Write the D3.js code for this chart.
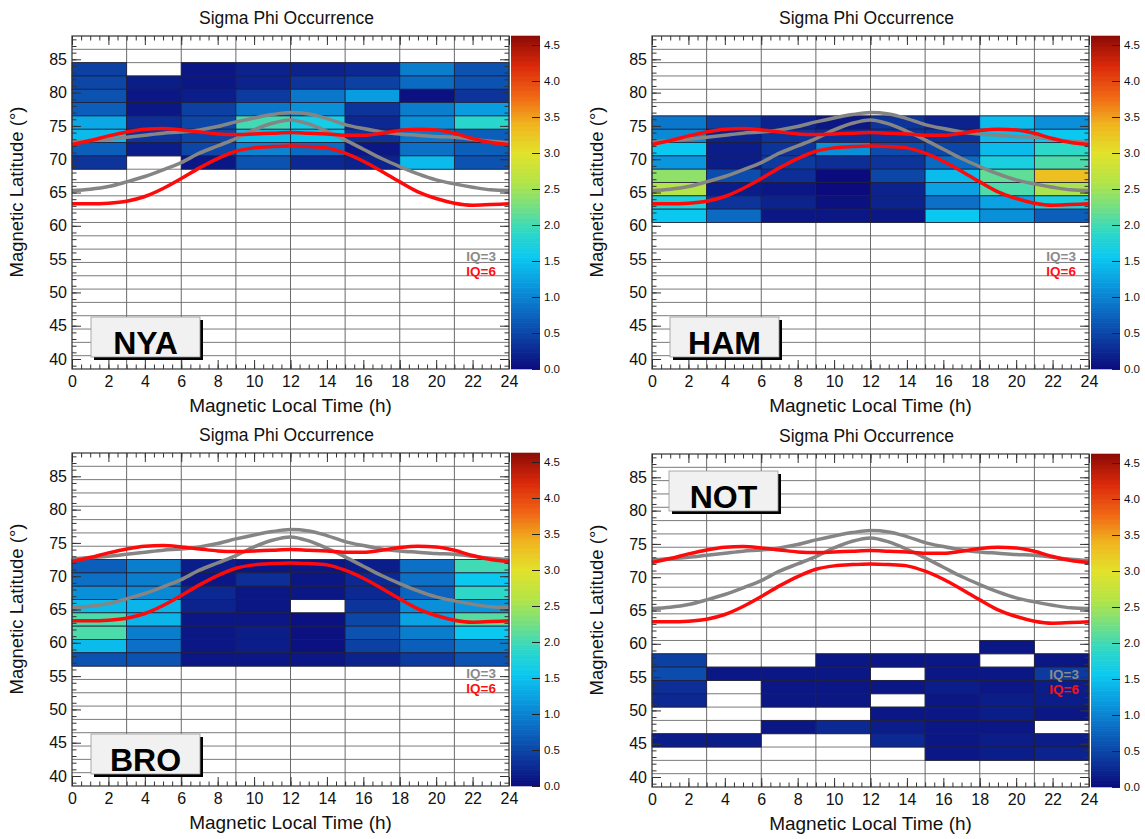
<!DOCTYPE html>
<html>
<head>
<meta charset="utf-8">
<script src="https://cdn.jsdelivr.net/npm/d3@7/dist/d3.min.js"></script>
<style>
  body { margin: 0; background: #fff; }
  svg { font-family: "Liberation Sans", Arial, Helvetica, sans-serif; }
</style>
</head>
<body>
<div class="vis-holder"></div>
<script>
// MLT bins (3 h wide) and tick values
var mltEdges = [0, 3, 6, 9, 12, 15, 18, 21, 24];
var mltTicks = [0, 2, 4, 6, 8, 10, 12, 14, 16, 18, 20, 22, 24];
var latTicks = [40, 45, 50, 55, 60, 65, 70, 75, 80, 85];
var colorTicks = [0, 0.5, 1, 1.5, 2, 2.5, 3, 3.5, 4, 4.5];

// auroral oval boundaries
var ovalMlt = [0, 1, 2, 3, 4, 5, 6, 7, 8, 9, 10, 11, 12, 13, 14, 15, 16, 17, 18, 19, 20, 21, 22, 23, 24];
var iq3Pole = [72.6, 72.8, 73.0, 73.3, 73.6, 73.9, 74.1, 74.4, 74.9, 75.6, 76.2, 76.7, 77.0, 76.8, 76.1, 75.2, 74.6, 74.1, 73.8, 73.6, 73.4, 73.3, 73.0, 72.7, 72.5];
var iq3Equator = [65.3, 65.5, 65.9, 66.6, 67.4, 68.4, 69.5, 70.9, 72.0, 73.1, 74.4, 75.4, 75.9, 75.3, 74.2, 72.9, 71.5, 70.1, 68.9, 67.8, 66.9, 66.3, 65.8, 65.4, 65.3];
var iq6Pole = [72.2, 72.8, 73.5, 74.1, 74.5, 74.6, 74.4, 74.1, 73.8, 73.7, 73.8, 73.9, 74.0, 73.9, 73.8, 73.6, 73.6, 73.9, 74.3, 74.5, 74.4, 73.9, 73.1, 72.5, 72.2];
var iq6Equator = [63.3, 63.3, 63.4, 63.7, 64.4, 65.6, 67.1, 68.7, 70.1, 71.2, 71.7, 71.9, 72.0, 71.9, 71.7, 70.9, 69.7, 68.2, 66.6, 65.1, 64.1, 63.4, 63.1, 63.2, 63.3];

// sigma phi occurrence per station: latitude bin centres (2 deg) and one row of 8 MLT bins each
var nyaLat = [83.5, 81.5, 79.5, 77.5, 75.5, 73.5, 71.5, 69.5];
var nyaVals = [
  [0.45, null, 0.1, 0.2, 0.2, 0.25, 0.95, 0.6],
  [0.5, 0.15, 0.1, 0.2, 0.35, 0.45, 0.8, 0.6],
  [0.6, 0.1, 0.15, 0.4, 0.9, 1.2, 0.05, 0.35],
  [0.7, 0.1, 0.45, 0.9, 1.1, 0.35, 0.95, 1.2],
  [1.3, 0.3, 0.5, 2.0, 1.65, 0.25, 1.1, 1.85],
  [1.45, 0.35, 0.5, 1.45, 1.5, 0.35, 0.9, 0.7],
  [0.7, 0.15, 0.5, 1.0, 0.8, 0.1, 0.85, 0.7],
  [0.35, null, 0.1, 0.6, 0.25, 0.2, 1.45, 0.6]
];

var hamLat = [75.5, 73.5, 71.5, 69.5, 67.5, 65.5, 63.5, 61.5];
var hamVals = [
  [0.9, 0.45, 0.2, 0.1, 0.35, 0.2, 1.45, 1.1],
  [1.05, 0.2, 0.35, 0.3, 0.35, 0.35, 1.45, 1.55],
  [1.55, 0.15, 0.35, 1.1, 0.55, 0.5, 1.45, 1.9],
  [1.15, 0.15, 0.4, 0.3, 0.35, 0.8, 1.7, 2.05],
  [2.4, 0.55, 0.3, 0.0, 0.5, 1.45, 2.15, 3.3],
  [2.6, 0.15, 0.1, 0.0, 0.2, 1.25, 2.05, 2.55],
  [1.75, 0.35, 0.2, 0.05, 0.2, 0.85, 1.25, 1.7],
  [1.55, 0.8, 0.1, 0.1, 0.1, 1.55, 1.1, 0.7]
];

var broLat = [71.5, 69.5, 67.5, 65.5, 63.5, 61.5, 59.5, 57.5];
var broVals = [
  [0.7, 0.95, 0.15, 0.1, 0.1, 0.15, 0.85, 2.0],
  [0.85, 0.95, 0.1, 0.3, 0.1, 0.25, 0.85, 1.55],
  [1.1, 1.05, 0.25, 0.1, 0.1, 0.25, 0.75, 1.9],
  [1.45, 1.4, 0.2, 0.1, null, 0.35, 1.1, 1.15],
  [2.05, 1.4, 0.1, 0.1, 0.05, 0.5, 1.25, 2.1],
  [2.05, 0.95, 0.1, 0.15, 0.05, 0.6, 0.95, 1.55],
  [1.45, 0.85, 0.1, 0.15, 0.05, 0.45, 0.7, 0.95],
  [0.6, 0.6, 0.1, 0.1, 0.1, 0.2, 0.4, 0.6]
];

var notLat = [59.5, 57.5, 55.5, 53.5, 51.5, 49.5, 47.5, 45.5, 43.5];
var notVals = [
  [null, null, null, null, null, null, 0.1, null],
  [0.45, null, null, 0.1, 0.1, 0.1, null, 0.1],
  [0.55, 0.1, 0.1, 0.1, null, 0.1, 0.1, 0.4],
  [0.3, null, 0.1, 0.1, 0.1, 0.15, 0.1, 0.15],
  [0.25, null, 0.1, 0.1, null, 0.1, 0.15, 0.15],
  [null, null, null, null, 0.1, 0.1, 0.15, 0.1],
  [null, null, 0.1, 0.25, 0.15, 0.1, 0.1, null],
  [0.15, 0.15, null, null, 0.25, 0.1, 0.15, 0.15],
  [null, null, null, null, null, 0.1, 0.15, 0.2]
];

var width = 1145, height = 839;
var plotW = 437, plotH = 333;
var cbW = 29, cbGap = 2;
var zMax = 4.625;

// ROOT-like rainbow palette
var color = d3.scaleLinear()
  .domain([0, 0.4, 0.8, 1.2, 1.55, 1.9, 2.2, 2.6, 3.0, 3.4, 3.8, 4.2, 4.625])
  .range(["#0b0b7d", "#0c3a9e", "#0b6ac2", "#0a9ce0", "#0bc8f0", "#2ed8c8", "#6ade8c",
          "#b4e446", "#e2e22a", "#f0b41e", "#f06414", "#dc2a0a", "#8c0a05"])
  .clamp(true);

var svg = d3.select(".vis-holder")
  .append("svg")
  .attr("width", width)
  .attr("height", height);

var panels = [
  {name: "NYA", lat: nyaLat, vals: nyaVals, left: 72, top: 36, boxX: 19, boxY: 281, iqX: 13},
  {name: "HAM", lat: hamLat, vals: hamVals, left: 652, top: 36, boxX: 18, boxY: 281, iqX: 13},
  {name: "BRO", lat: broLat, vals: broVals, left: 72, top: 453, boxX: 19, boxY: 281, iqX: 13},
  {name: "NOT", lat: notLat, vals: notVals, left: 652, top: 454, boxX: 17, boxY: 17, iqX: 10}
];

panels.forEach(drawPanel);

function drawPanel(p) {
  var g = svg.append("g").attr("transform", "translate(" + p.left + "," + p.top + ")");

  var x = d3.scaleLinear().domain([0, 24]).range([0, plotW]);
  var y = d3.scaleLinear().domain([38.5, 88.5]).range([plotH, 0]);

  g.append("rect").attr("width", plotW).attr("height", plotH).attr("fill", "#fff");

  // grid at bin edges
  var latEdges = d3.range(40.5, 88, 2);
  g.append("g").selectAll("line.h")
    .data(latEdges).enter().append("line")
    .attr("x1", 0).attr("x2", plotW)
    .attr("y1", function(d) { return y(d); }).attr("y2", function(d) { return y(d); })
    .attr("stroke", "#7a7a7a").attr("stroke-width", 1);
  g.append("g").selectAll("line.v")
    .data(mltEdges.slice(1, -1)).enter().append("line")
    .attr("y1", 0).attr("y2", plotH)
    .attr("x1", function(d) { return x(d); }).attr("x2", function(d) { return x(d); })
    .attr("stroke", "#6a6a6a").attr("stroke-width", 1);

  // heat map cells
  var cells = [];
  p.lat.forEach(function(lat, i) {
    p.vals[i].forEach(function(v, j) {
      if (v !== null) cells.push({lat: lat, m0: mltEdges[j], m1: mltEdges[j + 1], v: v});
    });
  });
  g.append("g").selectAll("rect")
    .data(cells).enter().append("rect")
    .attr("x", function(d) { return x(d.m0); })
    .attr("width", function(d) { return x(d.m1) - x(d.m0); })
    .attr("y", function(d) { return y(d.lat + 1); })
    .attr("height", function(d) { return y(d.lat - 1) - y(d.lat + 1); })
    .attr("fill", function(d) { return color(d.v); })
    .attr("stroke", "#20203a").attr("stroke-width", 0.8);

  // oval boundaries
  var line = d3.line()
    .x(function(d, i) { return x(ovalMlt[i]); })
    .y(function(d) { return y(d); })
    .curve(d3.curveMonotoneX);
  [[iq3Pole, "#858585"], [iq3Equator, "#858585"], [iq6Pole, "#ff0a0a"], [iq6Equator, "#ff0a0a"]]
    .forEach(function(c) {
      g.append("path")
        .attr("d", line(c[0]))
        .attr("fill", "none")
        .attr("stroke", c[1])
        .attr("stroke-width", 3.5);
    });

  // legend text
  g.append("text").attr("x", plotW - p.iqX).attr("y", 225)
    .attr("text-anchor", "end").attr("font-size", 13.5).attr("font-weight", "bold")
    .attr("fill", "#8a8a8a").text("IQ=3");
  g.append("text").attr("x", plotW - p.iqX).attr("y", 239.5)
    .attr("text-anchor", "end").attr("font-size", 13.5).attr("font-weight", "bold")
    .attr("fill", "#ff1010").text("IQ=6");

  // station box
  var bw = 109, bh = 40;
  g.append("rect").attr("x", p.boxX + 3).attr("y", p.boxY + 3).attr("width", bw).attr("height", bh)
    .attr("fill", "#000");
  g.append("rect").attr("x", p.boxX).attr("y", p.boxY).attr("width", bw).attr("height", bh)
    .attr("fill", "#f1f1f1").attr("stroke", "#9a9a9a").attr("stroke-width", 0.8);
  g.append("text").attr("x", p.boxX + bw / 2).attr("y", p.boxY + bh - 3.5)
    .attr("text-anchor", "middle").attr("font-size", 32).attr("font-weight", "bold")
    .attr("fill", "#000").text(p.name);

  // axes, ticks pointing inward on all four sides
  var minorLat = d3.range(39, 89, 1);
  var minorMlt = d3.range(0, 24.01, 0.5);
  function styleAxis(a) {
    a.select(".domain").remove();
    a.selectAll("line").attr("stroke", "#333");
    a.selectAll("text").attr("fill", "#111").attr("font-size", 16)
      .attr("font-family", "\"Liberation Sans\", Arial, sans-serif");
  }
  g.append("g").call(d3.axisLeft(y).tickValues(minorLat).tickSize(-4.5).tickFormat("")).call(styleAxis);
  g.append("g").call(d3.axisLeft(y).tickValues(latTicks).tickSize(-9).tickPadding(5)).call(styleAxis);
  g.append("g").attr("transform", "translate(" + plotW + ",0)")
    .call(d3.axisRight(y).tickValues(minorLat).tickSize(-4.5).tickFormat("")).call(styleAxis);
  g.append("g").attr("transform", "translate(" + plotW + ",0)")
    .call(d3.axisRight(y).tickValues(latTicks).tickSize(-9).tickFormat("")).call(styleAxis);

  g.append("g").attr("transform", "translate(0," + plotH + ")")
    .call(d3.axisBottom(x).tickValues(minorMlt).tickSize(-4.5).tickFormat("")).call(styleAxis);
  g.append("g").attr("transform", "translate(0," + plotH + ")")
    .call(d3.axisBottom(x).tickValues(mltTicks).tickSize(-9).tickPadding(7)).call(styleAxis);
  g.append("g")
    .call(d3.axisTop(x).tickValues(minorMlt).tickSize(-4.5).tickFormat("")).call(styleAxis);
  g.append("g")
    .call(d3.axisTop(x).tickValues(mltTicks).tickSize(-9).tickFormat("")).call(styleAxis);

  g.append("rect").attr("width", plotW).attr("height", plotH)
    .attr("fill", "none").attr("stroke", "#333").attr("stroke-width", 1.2);

  // titles
  g.append("text").attr("x", plotW / 2 - 4).attr("y", -12)
    .attr("text-anchor", "middle").attr("font-size", 17.5).attr("fill", "#111")
    .text("Sigma Phi Occurrence");
  g.append("text").attr("x", plotW / 2).attr("y", plotH + 43)
    .attr("text-anchor", "middle").attr("font-size", 19).attr("fill", "#111")
    .text("Magnetic Local Time (h)");
  g.append("text")
    .attr("transform", "translate(-49," + 156 + ") rotate(-90)")
    .attr("text-anchor", "middle").attr("font-size", 18.5).attr("fill", "#111")
    .text("Magnetic Latitude (\u00b0)");

  // colour bar
  var cb = g.append("g").attr("transform", "translate(" + (plotW + cbGap) + ",0)");
  var z = d3.scaleLinear().domain([0, zMax]).range([plotH, 0]);
  var steps = d3.range(0, 200);
  cb.selectAll("rect")
    .data(steps).enter().append("rect")
    .attr("x", 0).attr("width", cbW)
    .attr("y", function(d) { return z((d + 1) * zMax / 200) - 0.3; })
    .attr("height", function(d) { return z(d * zMax / 200) - z((d + 1) * zMax / 200) + 0.6; })
    .attr("fill", function(d) { return color((d + 0.5) * zMax / 200); });
  var za = cb.append("g").attr("transform", "translate(" + cbW + ",0)")
    .call(d3.axisRight(z).tickValues(colorTicks).tickSize(-8).tickPadding(4).tickFormat(d3.format(".1f")));
  za.select(".domain").remove();
  za.selectAll("line").attr("stroke", "#222");
  za.selectAll("text").attr("font-size", 11.5).attr("fill", "#111")
    .attr("font-family", "\"Liberation Sans\", Arial, sans-serif");
}
</script>
</body>
</html>
